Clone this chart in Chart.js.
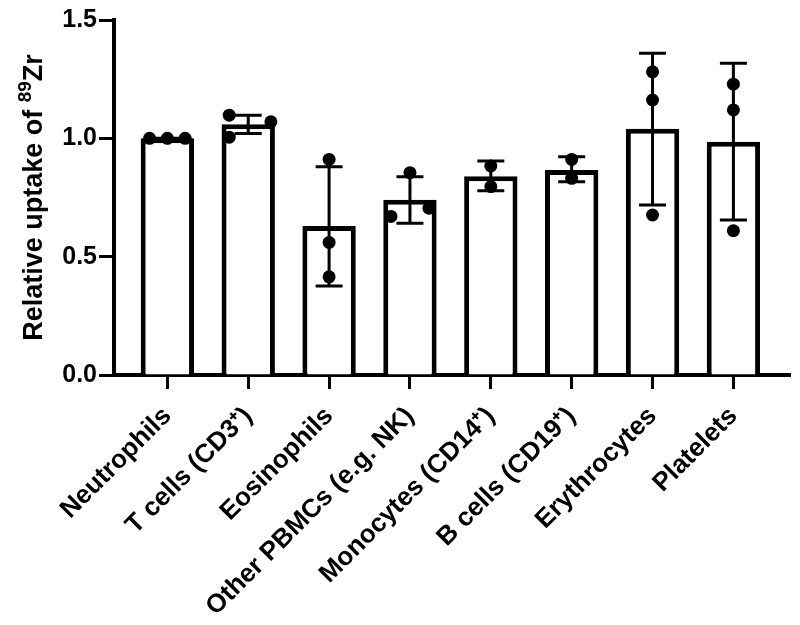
<!DOCTYPE html>
<html>
<head>
<meta charset="utf-8">
<script src="https://cdn.jsdelivr.net/npm/chart.js@4"></script>
<style>
  body { margin: 0; background: #fff; }
</style>
</head>
<body>
<canvas id="myChart" width="800" height="625"></canvas>
<script>
// cell types on the x axis
const labels = ['Neutrophils', 'T cells (CD3\u207A)', 'Eosinophils', 'Other PBMCs (e.g. NK)',
  'Monocytes (CD14\u207A)', 'B cells (CD19\u207A)', 'Erythrocytes', 'Platelets']
// bar height (mean)
const means = [1.0, 1.06, 0.63, 0.74, 0.84, 0.866, 1.04, 0.986]
// error bar ends (mean +/- SD)
const errLow = [1.0, 1.02, 0.376, 0.641, 0.779, 0.817, 0.718, 0.655]
const errHigh = [1.0, 1.098, 0.88, 0.838, 0.904, 0.922, 1.359, 1.317]
// individual replicates
const points = [
  [1.0, 1.0, 1.0],
  [1.098, 1.07, 1.005],
  [0.911, 0.56, 0.415],
  [0.855, 0.67, 0.705],
  [0.883, 0.796],
  [0.911, 0.831],
  [1.281, 1.162, 0.676],
  [1.229, 1.12, 0.61]
]
// horizontal scatter of overlapping dots, in category units
const jitter = [
  [-0.22, 0, 0.22],
  [-0.235, 0.28, -0.235],
  [0, 0, 0],
  [0, -0.235, 0.235],
  [0, 0],
  [0, 0],
  [0, 0, 0],
  [0, 0, 0]
]
const yTicks = [0, 0.5, 1.0, 1.5]
// y title: main text, superscript, rest
const yTitle = ['Relative uptake of ', '89', 'Zr']

const font = 'Liberation Sans, Arial, Helvetica, sans-serif'

const barData = means.map((m, i) => ({ x: i, y: m }))
const dotData = []
points.forEach((vals, i) => {
  vals.forEach((v, j) => dotData.push({ x: i + jitter[i][j], y: v }))
})

const errorBars = {
  id: 'errorBars',
  afterDatasetDraw(chart, args) {
    if (args.index !== 0) return
    const { ctx, scales: { x, y } } = chart
    ctx.save()
    ctx.strokeStyle = '#000'
    ctx.lineWidth = 3
    errLow.forEach((lo, i) => {
      const px = x.getPixelForValue(i)
      const yLo = y.getPixelForValue(lo)
      const yHi = y.getPixelForValue(errHigh[i])
      ctx.beginPath()
      ctx.moveTo(px, yLo)
      ctx.lineTo(px, yHi)
      ctx.moveTo(px - 13.5, yLo)
      ctx.lineTo(px + 13.5, yLo)
      ctx.moveTo(px - 13.5, yHi)
      ctx.lineTo(px + 13.5, yHi)
      ctx.stroke()
    })
    ctx.restore()
  }
}

// y axis title with a real superscript
const yTitlePlugin = {
  id: 'yTitle',
  afterDraw(chart) {
    const { ctx, chartArea } = chart
    const mainFont = 'bold 27px ' + font
    const supFont = 'bold 19px ' + font
    ctx.save()
    ctx.fillStyle = '#000'
    ctx.textBaseline = 'alphabetic'
    ctx.textAlign = 'left'
    ctx.font = mainFont
    const w1 = ctx.measureText(yTitle[0]).width
    const w3 = ctx.measureText(yTitle[2]).width
    ctx.font = supFont
    const w2 = ctx.measureText(yTitle[1]).width
    const total = w1 + w2 + w3
    const cy = (chartArea.top + chartArea.bottom) / 2
    ctx.translate(42, cy)
    ctx.rotate(-Math.PI / 2)
    let x0 = -total / 2
    ctx.font = mainFont
    ctx.fillText(yTitle[0], x0, 0)
    x0 += w1
    ctx.font = supFont
    ctx.fillText(yTitle[1], x0, -11)
    x0 += w2
    ctx.font = mainFont
    ctx.fillText(yTitle[2], x0, 0)
    ctx.restore()
  }
}

new Chart(document.getElementById('myChart').getContext('2d'), {
  type: 'bar',
  data: {
    datasets: [
      {
        type: 'bar',
        data: barData,
        backgroundColor: '#fff',
        borderColor: '#000',
        borderWidth: 5,
        categoryPercentage: 1,
        barPercentage: 0.66,
        order: 2
      },
      {
        type: 'scatter',
        data: dotData,
        backgroundColor: '#000',
        borderColor: '#000',
        pointRadius: 6.5,
        borderWidth: 0,
        order: 1
      }
    ]
  },
  plugins: [errorBars, yTitlePlugin],
  options: {
    responsive: false,
    animation: false,
    layout: { padding: { top: 20, right: 10, left: 0, bottom: 0 } },
    plugins: { legend: { display: false }, tooltip: { enabled: false } },
    scales: {
      x: {
        type: 'linear',
        min: -0.66,
        max: 7.7,
        offset: false,
        afterBuildTicks: axis => { axis.ticks = labels.map((l, i) => ({ value: i })) },
        afterFit: axis => { axis.height = 250 },
        grid: { display: true, drawOnChartArea: false, offset: false, tickLength: 14, tickWidth: 3, tickColor: '#000' },
        border: { display: true, color: '#000', width: 4 },
        ticks: {
          autoSkip: false,
          minRotation: 45,
          maxRotation: 45,
          padding: 12,
          color: '#000',
          font: { family: font, size: 26, weight: 'bold' },
          callback: v => labels[v]
        }
      },
      y: {
        min: 0,
        max: 1.5,
        afterBuildTicks: axis => { axis.ticks = yTicks.map(v => ({ value: v })) },
        afterFit: axis => { axis.width = 114 },
        grid: { display: true, drawOnChartArea: false, tickLength: 15, tickWidth: 3, tickColor: '#000' },
        border: { display: true, color: '#000', width: 4 },
        ticks: {
          padding: 2,
          color: '#000',
          font: { family: font, size: 25, weight: 'bold' },
          callback: v => v.toFixed(1)
        }
      }
    }
  }
})
</script>
</body>
</html>
